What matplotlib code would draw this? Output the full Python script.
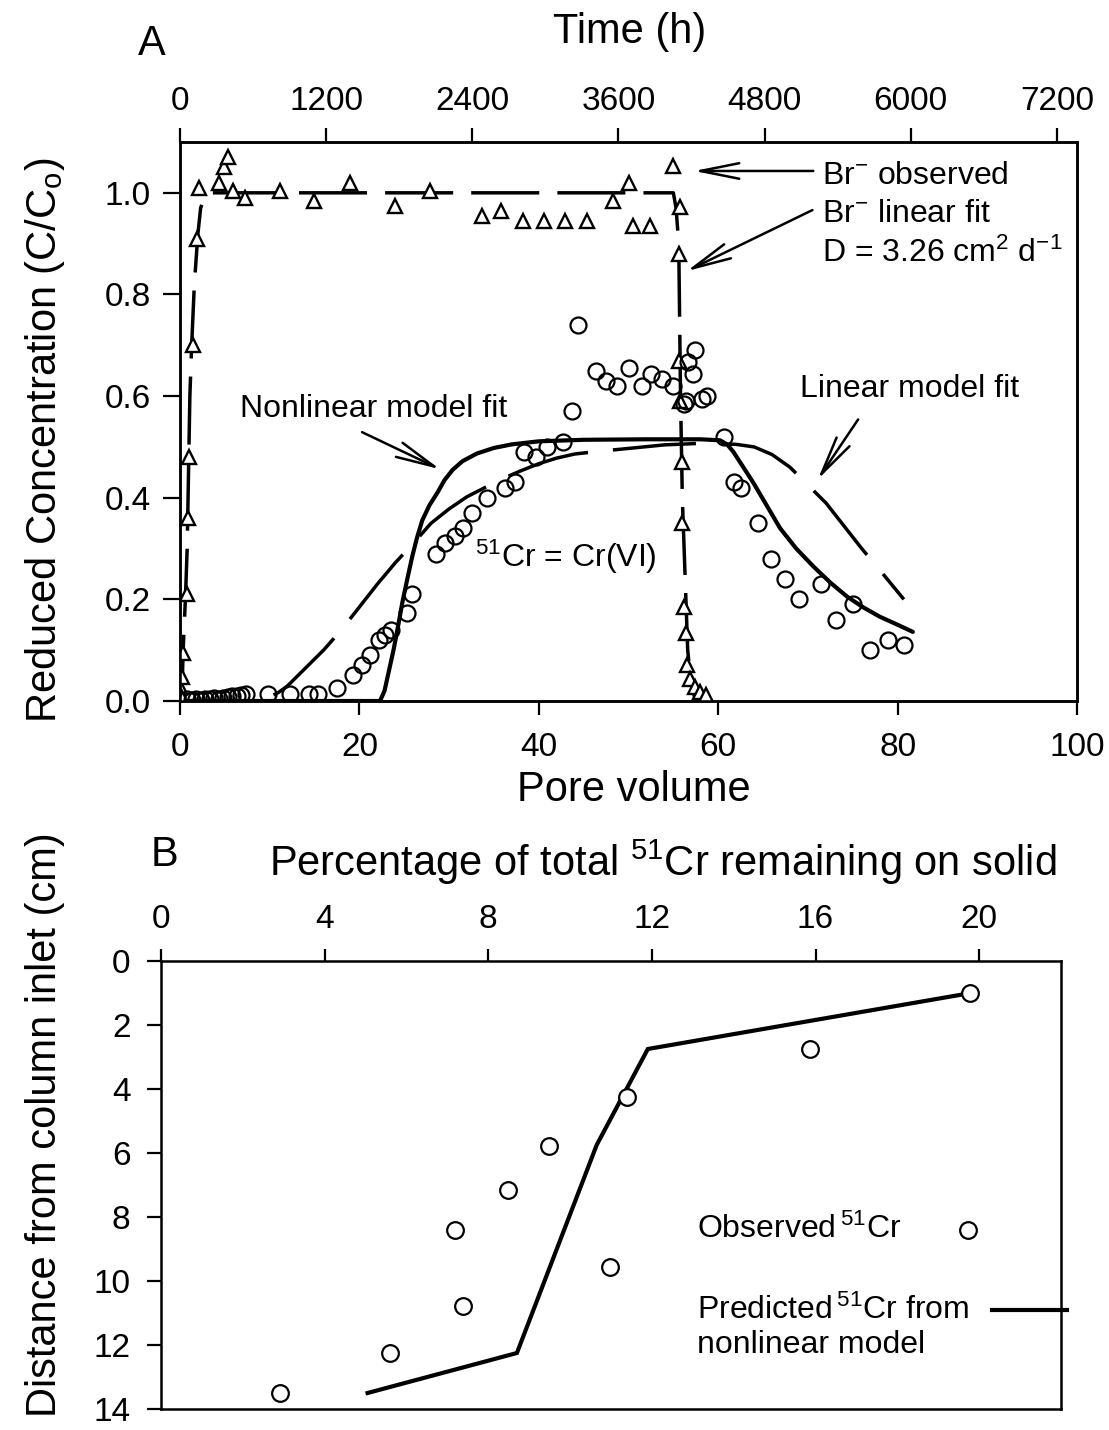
import matplotlib
matplotlib.use("Agg")
import matplotlib.pyplot as plt

plt.rcParams['font.family'] = ['Liberation Sans', 'DejaVu Sans']
plt.rcParams['mathtext.fontset'] = 'custom'
plt.rcParams['mathtext.rm'] = 'Liberation Sans'
plt.rcParams['mathtext.it'] = 'Liberation Sans:italic'
plt.rcParams['lines.scale_dashes'] = False

# ---------------- Panel A data ----------------
br_obs_pv = [0.0, 0.1, 0.2, 0.35, 0.8, 0.9, 1.0, 1.45, 1.9, 2.1, 4.3, 4.9, 5.4, 5.9, 7.2,
             11.1, 14.9, 19.0, 24.0, 27.9, 33.7, 35.8, 38.2, 40.6, 42.9, 45.4, 48.3,
             50.1, 50.5, 52.4, 55.0, 55.7, 55.6, 55.6, 55.7, 56.0, 56.0, 56.2, 56.4,
             56.5, 56.9, 57.4, 58.0, 58.6]
br_obs_c = [0.028, 0.01, 0.047, 0.094, 0.21, 0.36, 0.48, 0.70, 0.91, 1.01, 1.02, 1.05,
            1.07, 1.004, 0.99, 1.004, 0.984, 1.02, 0.974, 1.004, 0.955, 0.965, 0.945,
            0.945, 0.945, 0.945, 0.984, 1.02, 0.935, 0.935, 1.053, 0.972, 0.88, 0.67,
            0.59, 0.47, 0.35, 0.185, 0.134, 0.071, 0.043, 0.028, 0.018, 0.012]

br_fit_pv = [0.0, 0.2, 0.35, 0.6, 0.8, 1.0, 1.1, 1.3, 1.6, 2.0, 2.3, 2.7, 3.3, 4.0,
             55.0, 55.3, 55.6, 55.8, 56.0, 56.3, 56.6, 57.0, 57.5]
br_fit_c = [0.0, 0.0, 0.1, 0.2, 0.3, 0.5, 0.6, 0.7, 0.82, 0.92, 0.97, 0.99, 1.0, 1.0,
            1.0, 0.97, 0.9, 0.6, 0.4, 0.25, 0.1, 0.03, 0.0]

cr_obs_pv = [0.8, 1.3, 1.8, 2.3, 2.8, 3.3, 3.8, 4.3, 4.8, 5.3, 5.8, 6.3, 6.8, 7.4, 9.8,
             12.3, 14.4, 15.4, 17.5, 19.3, 20.3, 21.2, 22.2, 22.9, 23.5, 25.3, 25.9,
             28.5, 29.5, 30.7, 31.5, 32.6, 34.2, 36.2, 37.3, 38.3, 39.7, 40.9, 42.7,
             43.7, 44.4, 46.4, 47.5, 48.7, 50.0, 51.5, 52.5, 53.7, 55.0, 56.2, 56.4,
             56.6, 57.2, 57.4, 58.2, 58.7, 60.6, 61.8, 62.5, 64.4, 65.9, 67.4, 69.0,
             71.5, 73.1, 75.0, 76.9, 78.9, 80.7]
cr_obs_c = [0.003, 0.002, 0.003, 0.002, 0.004, 0.003, 0.005, 0.004, 0.006, 0.008, 0.01,
            0.01, 0.012, 0.014, 0.014, 0.014, 0.014, 0.014, 0.026, 0.051, 0.071, 0.09,
            0.12, 0.13, 0.14, 0.173, 0.21, 0.29, 0.31, 0.325, 0.34, 0.37, 0.40, 0.42,
            0.43, 0.49, 0.48, 0.50, 0.51, 0.57, 0.74, 0.65, 0.63, 0.62, 0.655, 0.62,
            0.643, 0.633, 0.62, 0.584, 0.59, 0.667, 0.643, 0.69, 0.594, 0.60, 0.52,
            0.43, 0.42, 0.35, 0.28, 0.24, 0.20, 0.23, 0.16, 0.19, 0.10, 0.12, 0.11]

nonlin_pv = [0.0, 22.3, 22.8, 23.3, 23.8, 24.3, 24.8, 25.4, 25.9, 26.4, 27.0, 27.8, 28.7,
             29.5, 30.4, 31.5, 33.1, 35.0, 37.0, 40.0, 45.0, 52.0, 58.0, 60.2, 61.0,
             61.7, 62.8, 63.9, 65.4, 66.9, 68.7, 70.6, 72.5, 74.4, 76.2, 78.0, 80.0, 81.7]
nonlin_c = [0.0, 0.0, 0.02, 0.06, 0.10, 0.146, 0.195, 0.245, 0.285, 0.32, 0.355, 0.385,
            0.41, 0.435, 0.455, 0.472, 0.487, 0.498, 0.505, 0.511, 0.514, 0.515, 0.515,
            0.513, 0.505, 0.49, 0.46, 0.43, 0.385, 0.34, 0.30, 0.265, 0.233, 0.205,
            0.184, 0.166, 0.15, 0.136]

lin_pv = [0.0, 8.0, 9.0, 10.0, 11.0, 12.0, 14.0, 16.0, 18.0, 20.0, 22.0, 24.0, 26.0, 28.0,
          30.0, 32.0, 34.0, 36.0, 38.0, 40.0, 42.0, 44.0, 46.5, 50.0, 54.0, 58.0, 62.0,
          64.0, 66.0, 68.0, 70.0, 72.0, 74.0, 76.0, 78.0, 80.0, 80.7]
lin_c = [0.0, 0.0, 0.003, 0.008, 0.017, 0.03, 0.065, 0.10, 0.14, 0.185, 0.23, 0.272,
         0.31, 0.35, 0.378, 0.402, 0.42, 0.438, 0.453, 0.467, 0.478, 0.486, 0.491, 0.497,
         0.504, 0.507, 0.505, 0.50, 0.485, 0.46, 0.425, 0.39, 0.345, 0.30, 0.258, 0.215,
         0.20]

pv_ticks = [0, 20, 40, 60, 80, 100]
c_ticks = [0.0, 0.2, 0.4, 0.6, 0.8, 1.0]
time_ticks = [0, 1200, 2400, 3600, 4800, 6000, 7200]
time_max = 7365  # hours corresponding to 100 pore volumes

# ---------------- Panel B data ----------------
obs_pct = [19.77, 15.86, 11.38, 9.48, 8.48, 7.18, 10.97, 7.37, 5.59, 2.9]
obs_depth = [0.99, 2.75, 4.26, 5.77, 7.15, 8.40, 9.57, 10.77, 12.24, 13.5]
pred_pct = [19.8, 11.9, 10.65, 8.7, 5.05]
pred_depth = [1.0, 2.75, 5.75, 12.25, 13.5]
pct_ticks = [0, 4, 8, 12, 16, 20]
depth_ticks = [0, 2, 4, 6, 8, 10, 12, 14]

W, H = 1109, 1430
fig = plt.figure(figsize=(W / 100, H / 100), dpi=100)

def fx(px):
    return px / W

def fy(py):
    return 1 - py / H

TICK_FS = 24
LAB_FS = 30
ANN_FS = 23
SPINE_LW = 1.8

# ---------------- Panel A ----------------
axA = fig.add_axes([fx(180), fy(701), fx(1077) - fx(180), fy(142) - fy(701)])
axA.plot(br_fit_pv, br_fit_c, color='black', lw=2.5, linestyle=(0, (49, 13)),
         dash_capstyle='butt', zorder=3)
axA.plot(lin_pv, lin_c, color='black', lw=2.5, linestyle=(10, (60, 18)),
         dash_capstyle='butt', zorder=3)
axA.plot(nonlin_pv, nonlin_c, color='black', lw=3.0, solid_capstyle='round',
         solid_joinstyle='round', zorder=4)
axA.plot(br_obs_pv, br_obs_c, linestyle='none', marker='^', markersize=10.5,
         markerfacecolor='white', markeredgecolor='black', markeredgewidth=1.7, zorder=5)
axA.plot(cr_obs_pv, cr_obs_c, linestyle='none', marker='o', markersize=11.5,
         markerfacecolor='none', markeredgecolor='black', markeredgewidth=1.6, zorder=5)

axA.set_xlim(0, 100)
axA.set_ylim(0, 1.1)
axA.set_xticks(pv_ticks)
axA.set_xticklabels([str(v) for v in pv_ticks])
axA.set_yticks(c_ticks)
axA.set_yticklabels([f"{v:.1f}" for v in c_ticks])
axA.tick_params(axis='x', direction='out', length=10, width=1.6, labelsize=TICK_FS, pad=12)
axA.tick_params(axis='y', direction='out', length=12, width=1.6, labelsize=TICK_FS, pad=9)
for s in axA.spines.values():
    s.set_linewidth(SPINE_LW)

axT = axA.twiny()
axT.set_xlim(0, time_max)
axT.set_xticks(time_ticks)
axT.set_xticklabels([str(v) for v in time_ticks])
axT.tick_params(axis='x', direction='out', length=10, width=1.6, labelsize=TICK_FS, pad=8)
for s in axT.spines.values():
    s.set_linewidth(SPINE_LW)

arrow_kw = dict(arrowstyle='->,head_length=1.4,head_width=0.28', lw=1.8, color='black',
                shrinkA=0, shrinkB=0, mutation_scale=20)
axA.annotate('', xy=(57.3, 1.043), xytext=(70.6, 1.043), arrowprops=arrow_kw)
axA.annotate('', xy=(56.5, 0.846), xytext=(70.5, 0.966), arrowprops=arrow_kw)
axA.annotate('', xy=(71.1, 0.436), xytext=(75.6, 0.554), arrowprops=arrow_kw)
axA.annotate('', xy=(29.0, 0.456), xytext=(20.3, 0.529), arrowprops=arrow_kw)

axA.text(71.6, 1.034, r'Br$^{-}$ observed', fontsize=ANN_FS, ha='left', va='center')
axA.text(71.6, 0.959, r'Br$^{-}$ linear fit', fontsize=ANN_FS, ha='left', va='center')
axA.text(71.6, 0.880, r'D = 3.26 cm$^{2}$ d$^{-1}$', fontsize=ANN_FS, ha='left', va='center')
axA.text(69.1, 0.613, 'Linear model fit', fontsize=ANN_FS, ha='left', va='center')
axA.text(6.7, 0.574, 'Nonlinear model fit', fontsize=ANN_FS, ha='left', va='center')
axA.text(32.9, 0.284, r'$^{51}$Cr = Cr(VI)', fontsize=ANN_FS, ha='left', va='center')

fig.text(fx(630), fy(32), 'Time (h)', fontsize=LAB_FS, ha='center', va='center')
fig.text(fx(152), fy(44), 'A', fontsize=LAB_FS, ha='center', va='center')
fig.text(fx(634), fy(790), 'Pore volume', fontsize=LAB_FS, ha='center', va='center')
fig.text(fx(45), fy(440), r'Reduced Concentration (C/C$_{\mathrm{o}}$)', fontsize=LAB_FS,
         ha='center', va='center', rotation=90)

# ---------------- Panel B ----------------
axB = fig.add_axes([fx(161), fy(1409), fx(1061) - fx(161), fy(961) - fy(1409)])
axB.plot(pred_pct, pred_depth, color='black', lw=3.0, solid_joinstyle='miter', zorder=3)
axB.plot(obs_pct, obs_depth, linestyle='none', marker='o', markersize=12,
         markerfacecolor='white', markeredgecolor='black', markeredgewidth=1.6, zorder=4)
axB.set_xlim(0, 22)
axB.set_ylim(14, 0)
axB.xaxis.tick_top()
axB.set_xticks(pct_ticks)
axB.set_xticklabels([str(v) for v in pct_ticks])
axB.set_yticks(depth_ticks)
axB.set_yticklabels([str(v) for v in depth_ticks])
axB.tick_params(axis='x', direction='out', length=9, width=1.6, labelsize=TICK_FS, pad=10)
axB.tick_params(axis='y', direction='out', length=10, width=1.6, labelsize=TICK_FS, pad=12)
for s in axB.spines.values():
    s.set_linewidth(SPINE_LW)

# legend (text with keys on the right)
axB.text(13.09, 8.40, r'Observed$\,^{51}$Cr', fontsize=ANN_FS, ha='left', va='center')
axB.plot([0.897], [0.40], transform=axB.transAxes, linestyle='none', marker='o',
         markersize=12, markerfacecolor='white', markeredgecolor='black',
         markeredgewidth=1.6, clip_on=False)
axB.text(13.09, 10.92, r'Predicted$\,^{51}$Cr from', fontsize=ANN_FS, ha='left', va='center')
axB.text(13.09, 11.99, 'nonlinear model', fontsize=ANN_FS, ha='left', va='center')
axB.plot([0.923, 1.007], [0.22, 0.22], transform=axB.transAxes, color='black', lw=3.0,
         clip_on=False)

fig.text(fx(165), fy(855), 'B', fontsize=LAB_FS, ha='center', va='center')
fig.text(fx(663), fy(862), r'Percentage of total $^{51}$Cr remaining on solid',
         fontsize=LAB_FS, ha='center', va='center')
fig.text(fx(45), fy(1125), 'Distance from column inlet (cm)', fontsize=LAB_FS,
         ha='center', va='center', rotation=90)

fig.savefig('out.png', dpi=100, facecolor='white')
